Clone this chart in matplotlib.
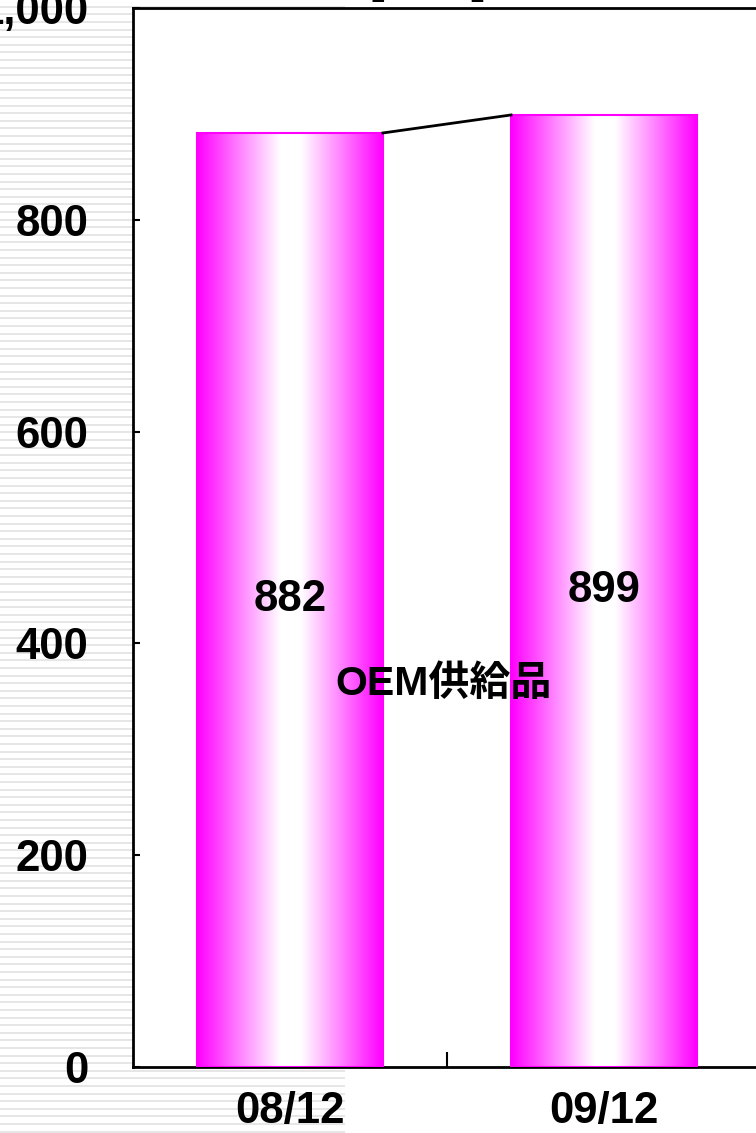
import numpy as np
import matplotlib.pyplot as plt
from matplotlib.colors import LinearSegmentedColormap

plt.rcParams["font.family"] = ["Liberation Sans", "Noto Sans CJK JP"]
plt.rcParams["font.weight"] = "bold"

# データ
periods = ["08/12", "09/12"]
oem_units = [882, 899]
series_name = "OEM供給品"
y_ticks = [0, 200, 400, 600, 800, 1000]
y_tick_labels = ["0", "200", "400", "600", "800", "1,000"]

W, H = 756, 1133
fig = plt.figure(figsize=(W / 100, H / 100), dpi=100)

# 背景の横縞
bg = fig.add_axes([0, 0, 345 / W, 1])
bg.set_xlim(0, 345)
bg.set_ylim(0, H)
bg.axis("off")
for y in np.arange(1.5, H, 7.6):
    bg.axhline(y, color="#e6e6e6", lw=1.4)

ax = fig.add_axes([133 / W, (H - 1067) / H, 942 / W, (1067 - 8) / H])
ax.set_facecolor("white")
ax.set_zorder(2)

x = np.arange(len(periods))
width = 0.592
ax.set_xlim(-0.5, 2.5)
ax.set_ylim(0, 1000)

# グラデーションの棒
cmap = LinearSegmentedColormap.from_list(
    "pink", [(0, "#ff00ff"), (0.45, "#ffffff"), (0.56, "#ffffff"), (1, "#ff00ff")]
)
grad = np.linspace(0, 1, 256).reshape(1, -1)
bars = ax.bar(x, oem_units, width, facecolor="none", edgecolor="#ff00ff", lw=1.5, zorder=3)
for b in bars:
    x0, y0, w, h = b.get_x(), b.get_y(), b.get_width(), b.get_height()
    im = ax.imshow(grad, cmap=cmap, aspect="auto", extent=(x0, x0 + w, y0, y0 + h), zorder=2)
    im.set_clip_path(b)

# 棒の上端をつなぐ線
for i in range(len(bars) - 1):
    b1, b2 = bars[i], bars[i + 1]
    ax.plot([b1.get_x() + b1.get_width(), b2.get_x()], [b1.get_height(), b2.get_height()],
            color="black", lw=2, zorder=4)

for xi, v in zip(x, oem_units):
    ax.text(xi, v / 2, str(v), ha="center", va="center", fontsize=31.5, fontweight="bold", zorder=5)

ax.text(0.49, 362, series_name, ha="center", va="center", fontsize=29.5, fontweight="bold", zorder=5)

ax.set_yticks(y_ticks)
ax.set_yticklabels(y_tick_labels, fontsize=31.5, fontweight="bold")
ax.tick_params(axis="y", direction="in", length=5, width=1.5, pad=32)

ax.set_xticks(np.arange(len(periods) + 1)[:-1] + 0.5)
ax.set_xticklabels([])
ax.set_xticks(x, minor=True)
ax.set_xticklabels(periods, minor=True, fontsize=31.5, fontweight="bold")
ax.tick_params(axis="x", which="major", direction="in", length=11, width=1.5)
ax.tick_params(axis="x", which="minor", length=0, pad=17)

for s in ax.spines.values():
    s.set_linewidth(2)

# 単位表示
fig.text(428 / W, 1.0 + 21 / H, "[万台]", ha="center", va="center", fontsize=31.5, fontweight="bold")

fig.savefig("out.png", dpi=100)
